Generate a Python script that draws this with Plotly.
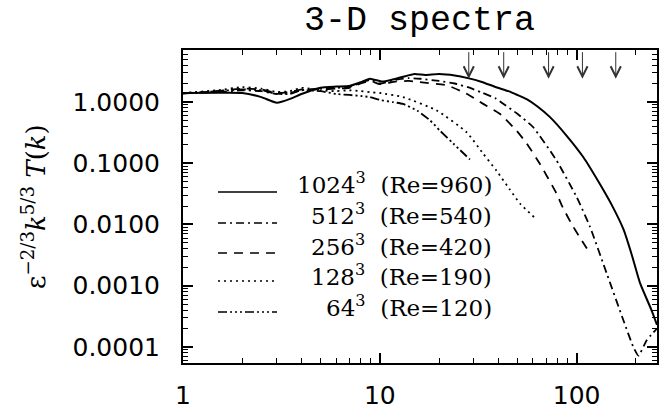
import numpy as np
import plotly.graph_objects as go

# ---- data ----
k_1024 = [1, 1.5, 2.0, 2.5, 3.0, 3.5, 4.0, 5.0, 6.0, 7.0, 8.0, 8.9, 10.3, 11.5, 13, 15, 17, 20, 24, 28,
          33, 39, 45, 50, 56, 63, 73, 89, 108, 131, 153, 173, 190, 210, 240, 256]
T_1024 = [1.40, 1.41, 1.40, 1.20, 0.97, 1.12, 1.35, 1.71, 1.78, 1.82, 2.1, 2.4, 2.15, 2.3, 2.55, 2.85, 2.75,
          2.85, 2.7, 2.45, 2.12, 1.74, 1.5, 1.3, 1.1, 0.85, 0.57, 0.28, 0.126, 0.046, 0.019, 0.0083, 0.0033,
          0.0011, 0.0004, 0.00023]

k_512 = [1, 1.5, 2, 2.5, 3, 3.5, 4, 5, 6, 7, 8, 9, 10, 12, 14, 16, 20, 24, 28, 33, 39, 42, 50, 60, 79,
         100, 117, 142, 173, 194, 206, 227, 256]
T_512 = [1.38, 1.45, 1.55, 1.5, 1.35, 1.4, 1.55, 1.65, 1.7, 1.75, 2.05, 2.3, 2.0, 2.3, 2.45, 2.39, 2.2,
         2.0, 1.74, 1.42, 1.13, 0.95, 0.64, 0.39, 0.111, 0.028, 0.0091, 0.0016, 2.7e-4, 1.0e-4, 7.2e-5,
         1.29e-4, 2.0e-4]

k_256 = [1, 1.5, 2, 2.5, 3, 3.5, 4, 5, 6, 7, 8, 9, 10, 12, 14, 16, 22, 27.6, 33.5, 40.7, 49.5, 55.7,
         65, 79, 85, 96, 116]
T_256 = [1.38, 1.5, 1.65, 1.6, 1.4, 1.45, 1.6, 1.6, 1.65, 1.7, 2.0, 2.2, 1.95, 2.15, 2.2, 2.1, 1.86,
         1.36, 0.93, 0.64, 0.34, 0.21, 0.098, 0.032, 0.019, 0.0092, 0.0035]

k_128 = [1, 1.5, 2, 2.5, 3, 3.5, 4, 5, 6, 7, 8, 8.9, 10, 13.1, 19.4, 27.6, 33.5, 39.2, 45.8, 51.5, 61.4]
T_128 = [1.4, 1.55, 1.75, 1.65, 1.45, 1.5, 1.7, 1.55, 1.5, 1.55, 1.5, 1.44, 1.4, 1.2, 0.73, 0.32,
         0.143, 0.075, 0.037, 0.022, 0.0128]

k_64 = [1, 1.5, 2, 2.5, 3, 3.5, 4, 5, 6, 7, 8, 8.9, 10, 11.7, 13.1, 15.5, 18, 20.2, 23.6, 28.7]
T_64 = [1.38, 1.5, 1.6, 1.55, 1.35, 1.35, 1.55, 1.5, 1.35, 1.3, 1.25, 1.2, 1.08, 0.99, 0.93, 0.72,
        0.50, 0.34, 0.21, 0.115]

series_names = ["1024", "512", "256", "128", "64"]
series_Re = ["960", "540", "420", "190", "120"]
arrow_k = [28.3, 42.6, 72, 107, 158]
arrow_T = 2.4
title_text = "3-D spectra"
y_title = "ε<sup>−2/3</sup><i>k</i><sup>5/3</sup> <i>T</i>(<i>k</i>)"

# ---- styles ----
dashes = ["solid", "8px,4px,2px,4px", "9px,7px", "2px,4px", "9px,3px,2px,3px,2px,3px,2px,3px"]
widths = [2.0, 1.8, 1.8, 1.8, 1.8]

W, H = 666, 415
ML, MR, MT, MB = 183, 9, 50, 52
PW, PH = W - ML - MR, H - MT - MB


def px2paper(x, y):
    return (x - ML) / PW, (H - MB - y) / PH


fig = go.Figure()
ks = [k_1024, k_512, k_256, k_128, k_64]
Ts = [T_1024, T_512, T_256, T_128, T_64]
for i in range(5):
    fig.add_trace(go.Scatter(x=ks[i], y=Ts[i], mode="lines",
                             line=dict(color="black", width=widths[i], dash=dashes[i], shape="spline",
                                       smoothing=0.5),
                             showlegend=False, hoverinfo="skip"))

# legend drawn manually
line_y = [192, 223, 253, 281, 312]
text_y = [183, 213.5, 244.5, 275, 306]
for i in range(5):
    x0, y0 = px2paper(218, line_y[i])
    x1, _ = px2paper(277, line_y[i])
    fig.add_shape(type="line", xref="paper", yref="paper", x0=x0, x1=x1, y0=y0, y1=y0,
                  line=dict(color="black", width=1.6, dash=dashes[i]))
    tx, ty = px2paper(494, text_y[i])
    fig.add_annotation(xref="paper", yref="paper", x=tx, y=ty, xanchor="right", yanchor="middle",
                       showarrow=False,
                       text=f"{series_names[i]}<sup>3</sup>\u00a0\u00a0(Re={series_Re[i]})",
                       font=dict(family="DejaVu Serif", size=23, color="black"))

# arrows
for ka in arrow_k:
    fig.add_annotation(x=np.log10(ka), y=np.log10(arrow_T), xref="x", yref="y", text="",
                       showarrow=True, ax=0, ay=-28, arrowhead=5, arrowsize=2, arrowwidth=1,
                       arrowcolor="#333333", standoff=0)

# title
tx, ty = px2paper(419, 21)
fig.add_annotation(xref="paper", yref="paper", x=tx, y=ty, xanchor="center", yanchor="middle",
                   showarrow=False, text=title_text,
                   font=dict(family="Liberation Mono", size=35, color="black"))
# y title
tx, ty = px2paper(34, 207)
fig.add_annotation(xref="paper", yref="paper", x=tx, y=ty, xanchor="center", yanchor="middle",
                   showarrow=False, text=y_title, textangle=-90,
                   font=dict(family="DejaVu Serif", size=26, color="black"))

minor_vals = [m * 10.0 ** e for e in range(-5, 3) for m in range(2, 10)]

fig.update_xaxes(type="log", range=[0, np.log10(256)], showline=True, linecolor="black", linewidth=2,
                 mirror="allticks", ticks="inside", ticklen=10, tickwidth=1.5, tickcolor="black",
                 tickmode="array", tickvals=[1, 10, 100], ticktext=["1", "10", "100"],
                 minor=dict(tickvals=minor_vals, ticks="inside", ticklen=5, tickwidth=1, tickcolor="black",
                            showgrid=False),
                 showgrid=False, zeroline=False, ticklabelstandoff=9, automargin=False,
                 tickfont=dict(family="DejaVu Sans", size=25, color="black"))
fig.update_yaxes(type="log", range=[-4.262, 0.848], showline=True, linecolor="black", linewidth=2,
                 mirror="allticks", ticks="inside", ticklen=10, tickwidth=1.5, tickcolor="black",
                 tickmode="array", tickvals=[1e-4, 1e-3, 1e-2, 1e-1, 1],
                 ticktext=["0.0001", "0.0010", "0.0100", "0.1000", "1.0000"],
                 minor=dict(tickvals=minor_vals, ticks="inside", ticklen=5, tickwidth=1, tickcolor="black",
                            showgrid=False),
                 showgrid=False, zeroline=False, ticklabelstandoff=16, automargin=False,
                 tickfont=dict(family="DejaVu Sans", size=25, color="black"))

fig.update_layout(width=W, height=H, margin=dict(l=ML, r=MR, t=MT, b=MB, pad=0, autoexpand=False),
                  paper_bgcolor="white", plot_bgcolor="white", showlegend=False)

fig.write_html("out.html")
